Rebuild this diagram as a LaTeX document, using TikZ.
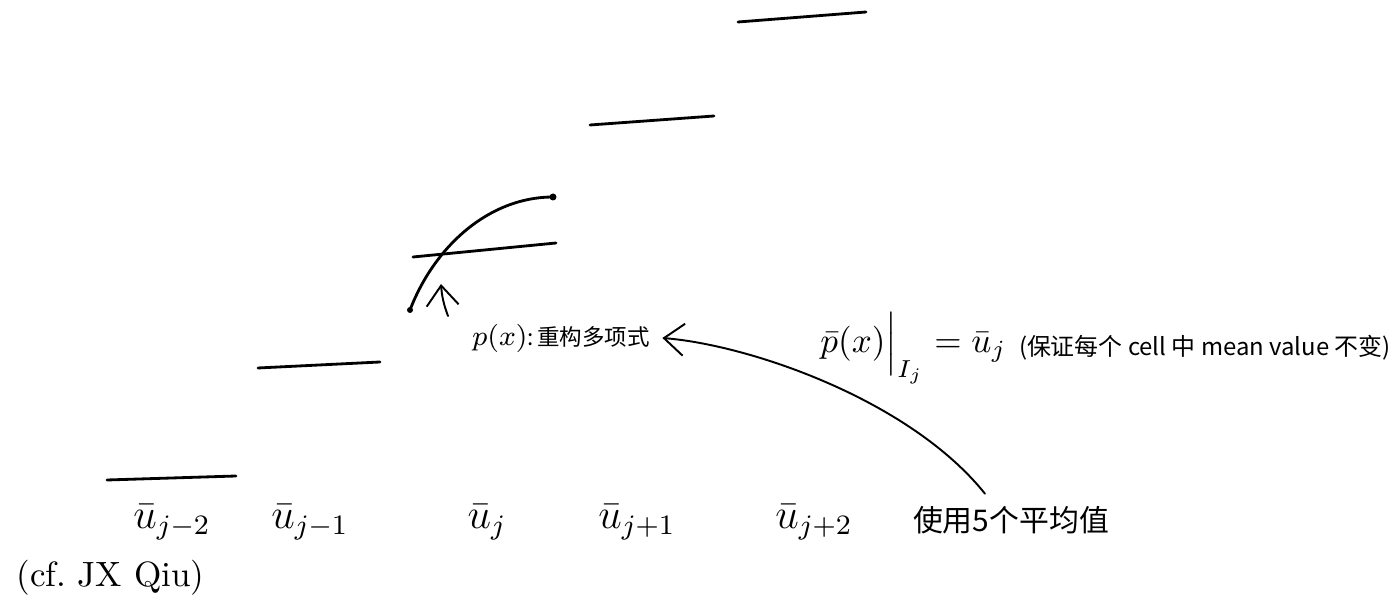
\documentclass[tikz,border=0pt]{standalone}
\usepackage{fontspec}
\newfontfamily\cjk{Noto Sans CJK SC}
\usetikzlibrary{arrows.meta,positioning}

\begin{document}
\begin{tikzpicture}[line cap=round,line join=round,
    bar/.style={line width=0.8pt},
    arr/.style={line width=0.55pt,-{Straight Barb[length=2mm,width=3.2mm]}},
    ulabel/.style={font=\large},
    hand/.style={font=\cjk\fontsize{8.5}{10}\selectfont},
    note/.style={font=\cjk\fontsize{6.4}{8}\selectfont}]
  \useasboundingbox (0,0) rectangle (13.96,-6.01);
  % cell averages
  \draw[bar] (1.07,-4.80) -- (2.36,-4.76);
  \draw[bar] (2.58,-3.68) -- (3.80,-3.62);
  \draw[bar] (4.13,-2.57) -- (5.56,-2.43);
  \draw[bar] (5.90,-1.25) -- (7.14,-1.16);
  \draw[bar] (7.38,-0.22) -- (8.66,-0.12);
  % reconstruction
  \coordinate (Pa) at (4.10,-3.10);
  \coordinate (Pb) at (5.53,-1.97);
  \coordinate (Pt) at (4.41,-2.84);
  \draw[bar] (Pa) .. controls (4.35,-2.45) and (4.90,-1.97) .. (Pb);
  \fill (Pa) circle (0.03);
  \fill (Pb) circle (0.035);
  \node[ulabel] (um2) at (1.72,-5.22) {$\bar u_{j-2}$};
  \node[ulabel] (um1) at (3.10,-5.22) {$\bar u_{j-1}$};
  \node[ulabel] (u0) at (4.87,-5.22) {$\bar u_{j}$};
  \node[ulabel] (up1) at (6.37,-5.22) {$\bar u_{j+1}$};
  \node[ulabel] (up2) at (8.14,-5.22) {$\bar u_{j+2}$};
  \node[hand] (avg) at (10.11,-5.20) {使用5个平均值};
  \node[anchor=west] (cf) at (0.04,-5.78) {(cf.\ JX Qiu)};
  \node[note,anchor=west] (px) at (4.60,-3.38)
    {{\fontsize{7.6}{8}\selectfont$p(x)$}:\,重构多项式};
  \node[anchor=west] (mean) at (8.08,-3.48) {$\bar p(x)\Big|_{I_j} = \bar u_j$};
  \node[note,font=\cjk\fontsize{6.8}{8}\selectfont,inner sep=1pt,right=-0.04cm of mean] (keep)
    {(保证每个 cell 中 mean value 不变)};
  \draw[arr] ([shift={(-0.12,0.22)}]px.west) to[bend left=8] (Pt);
  \draw[arr] ([xshift=-2.6mm]avg.north) .. controls (9.10,-4.00) and (7.50,-3.45) .. (px.east);
\end{tikzpicture}
\end{document}
